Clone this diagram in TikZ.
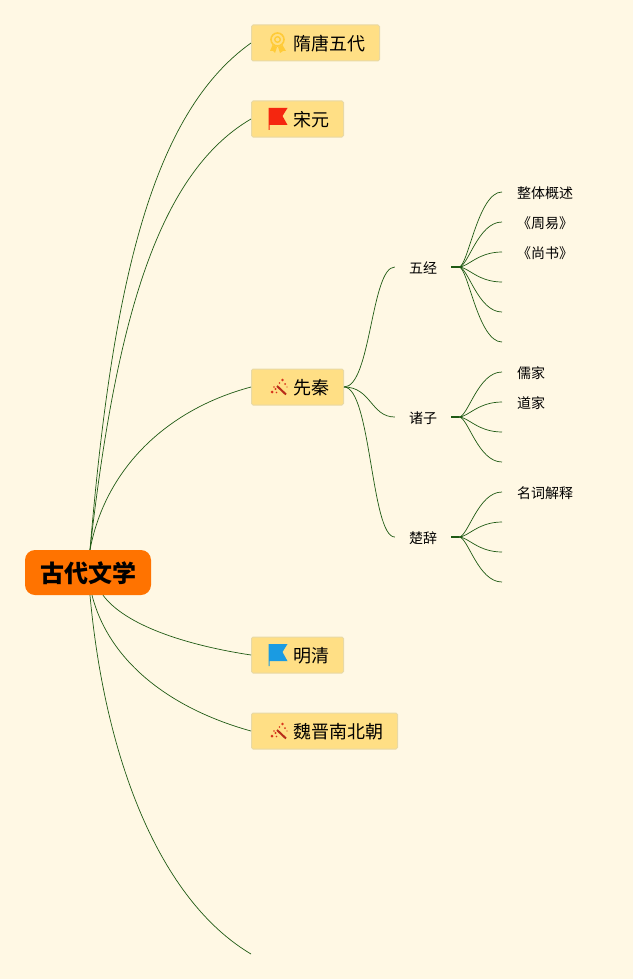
\documentclass[tikz,border=0pt]{standalone}
\usepackage{fontspec}
\setmainfont{Noto Sans CJK SC}
\definecolor{paper}{HTML}{FFF8E4}
\definecolor{rootfill}{HTML}{FF7300}
\definecolor{topicfill}{HTML}{FFDF85}
\definecolor{topicline}{HTML}{E8D9A6}
\definecolor{branch}{HTML}{1F5A14}
\definecolor{flagred}{HTML}{F5260F}
\definecolor{flagblue}{HTML}{1A9BE2}
\definecolor{medal}{HTML}{FFCB38}
\definecolor{wand}{HTML}{D8341C}
\tikzset{
  rootbox/.style={rectangle,rounded corners=10pt,fill=rootfill,minimum width=126pt,minimum height=45pt,inner sep=0pt,text height=20.2pt,text depth=0pt,font=\fontsize{24}{28}\selectfont\bfseries},
  topicbox/.style={rectangle,rounded corners=1.5pt,fill=topicfill,draw=topicline,line width=1pt,minimum height=36pt,inner sep=0pt,anchor=west,text height=15.7pt,text depth=0pt,font=\fontsize{18}{22}\selectfont},
  subbox/.style={minimum width=56pt,minimum height=20pt,inner sep=0pt,text height=12.6pt,text depth=0pt,font=\fontsize{14}{17}\selectfont},
  leafbox/.style={anchor=west,inner xsep=15pt,inner ysep=2pt,text height=12.6pt,text depth=0pt,font=\fontsize{14}{17}\selectfont},
  link/.style={draw=branch,line width=0.7pt},
  flag icon/.pic={
    \fill[pic actions] (-9.5,-11) -- (9.5,-11) -- (4.5,-3) -- (9.5,6) -- (-8.3,6) -- (-8.3,11) -- (-9.5,11) -- cycle;
  },
  medal icon/.pic={
    \draw[medal,line width=1.6pt] (-0.5,-3.5) circle (6.5);
    \draw[medal,line width=1.4pt] (-0.5,-3.5) circle (2.8);
    \fill[medal] (-5.5,2) -- (-8,8) -- (-5,8) -- (-3,10) -- (-1,4) -- cycle;
    \fill[medal] (4.5,2) -- (8,8) -- (5,8) -- (2,10) -- (0,4) -- cycle;
  },
  wand icon/.pic={
    \draw[wand!85!black,line width=2pt] (-2,-2) -- (7,6.5);
    \fill[wand] (-7,4) circle (1.5) (-3.5,1) circle (1.2) (-5,-1) circle (0.8) (-2.5,4.5) circle (0.8) (3.5,-8) circle (1.3) (0.5,-5) circle (0.9) (6,-4) circle (1) (8,-1) circle (0.7);
  },
}
\begin{document}
\begin{tikzpicture}[x=1pt,y=-1pt]
  \fill[paper] (0,0) rectangle (633,979);
  \useasboundingbox (0,0) rectangle (633,979);
  % Main topics
  \node[rootbox] (root) at (88,572.5) {古代文学};
  \node[topicbox,minimum width=128pt] (suitang) at (251,43) {\hspace{28pt}隋唐五代};
  \node[topicbox,minimum width=92pt] (songyuan) at (251,119) {\hspace{28pt}宋元};
  \node[topicbox,minimum width=92pt] (xianqin) at (251,387) {\hspace{28pt}先秦};
  \node[topicbox,minimum width=92pt] (mingqing) at (251,655) {\hspace{28pt}明清};
  \node[topicbox,minimum width=146pt] (weijin) at (251,731) {\hspace{28pt}魏晋南北朝};
  \coordinate (lastend) at (251,954);
  % Icons
  \pic at (278,43) {medal icon};
  \pic[fill=flagred] at (278,119) {flag icon};
  \pic at (279,388) {wand icon};
  \pic[fill=flagblue] at (278,655) {flag icon};
  \pic at (279,732) {wand icon};
  % Second level
  \node[subbox] (wujing) at (423,267) {五经};
  \node[subbox] (zhuzi) at (423,417) {诸子};
  \node[subbox] (chuci) at (423,537) {楚辞};
  \coordinate (wujinghub) at (459,267);
  \coordinate (zhuzihub) at (459,417);
  \coordinate (chucihub) at (459,537);
  \coordinate (wujingbend) at (468,267);
  \coordinate (zhuzibend) at (468,417);
  \coordinate (chucibend) at (468,537);
  \coordinate (leafbend) at (478,0);
  \coordinate (xianqinbend) at (371,387);
  % Leaves
  \node[leafbox] (zhengti) at (502,192) {整体概述};
  \node[leafbox] (zhouyi) at (502,222) {《周易》};
  \node[leafbox] (shangshu) at (502,252) {《尚书》};
  \coordinate (w4) at (502,282);
  \coordinate (w5) at (502,312);
  \coordinate (w6) at (502,342);
  \node[leafbox] (rujia) at (502,372) {儒家};
  \node[leafbox] (daojia) at (502,402) {道家};
  \coordinate (z3) at (502,432);
  \coordinate (z4) at (502,462);
  \node[leafbox] (mingci) at (502,492) {名词解释};
  \coordinate (c2) at (502,522);
  \coordinate (c3) at (502,552);
  \coordinate (c4) at (502,582);
  % Links from the root
  \draw[link] ([xshift=2pt]root.north) .. controls (112,290) and (150,115) .. (suitang.west);
  \draw[link] ([xshift=2pt]root.north) .. controls (115,330) and (155,175) .. (songyuan.west);
  \draw[link] ([xshift=2pt]root.north) .. controls (105,470) and (165,410) .. (xianqin.west);
  \draw[link] ([xshift=15pt]root.south) .. controls (125,625) and (185,645) .. (mingqing.west);
  \draw[link] ([xshift=4pt]root.south) .. controls (110,665) and (175,710) .. (weijin.west);
  \draw[link] ([xshift=2pt]root.south) .. controls (105,760) and (160,900) .. (lastend);
  % Links of the second level
  \foreach \to in {wujing,zhuzi,chuci}
    \draw[link] (xianqin.east) .. controls (xianqinbend) and (xianqinbend |- \to.west) .. (\to.west);
  \foreach \from in {wujing,zhuzi,chuci}
    \draw[draw=branch,line width=1.6pt] (\from.east) -- (\from hub);
  \foreach \to in {zhengti,zhouyi,shangshu,w4,w5,w6}
    \draw[link] (wujinghub) .. controls (wujingbend) and (leafbend |- \to) .. (\to);
  \foreach \to in {rujia,daojia,z3,z4}
    \draw[link] (zhuzihub) .. controls (zhuzibend) and (leafbend |- \to) .. (\to);
  \foreach \to in {mingci,c2,c3,c4}
    \draw[link] (chucihub) .. controls (chucibend) and (leafbend |- \to) .. (\to);
\end{tikzpicture}
\end{document}
